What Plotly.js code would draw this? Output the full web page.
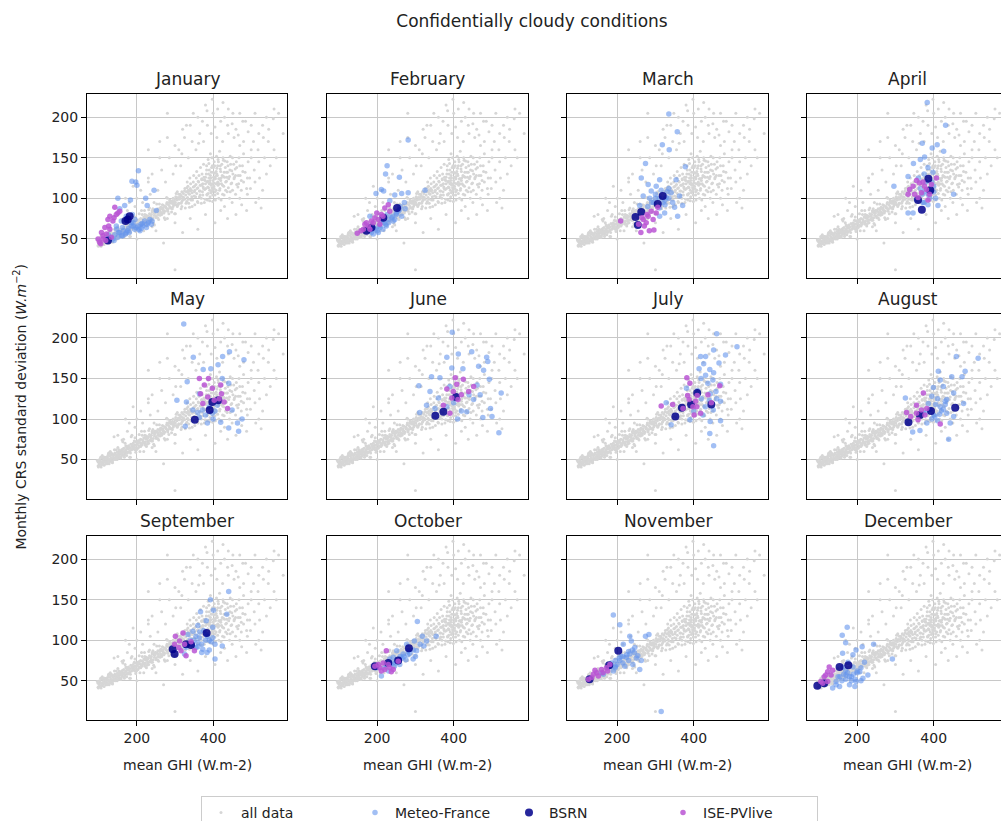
<!DOCTYPE html>
<html><head><meta charset="utf-8">
<script src="https://cdn.plot.ly/plotly-3.0.1.min.js"></script>
<style>html,body{margin:0;padding:0;overflow:hidden;background:#fff}#chart{width:1010px;height:830px}</style>
</head><body><div id="chart"></div><script>
const MONTHS = ["January","February","March","April","May","June","July","August","September","October","November","December"];
const X_TICKS = [200, 400];
const Y_TICKS = [50, 100, 150, 200];

// "all data" cloud (same in every panel)
const GRAY_X = [98,102,105,108,110,112,115,117,120,122,124,126,128,130,132,134,136,138,140,142,144,146,148,150,152,154,156,158,160,162,164,166,168,170,172,174,176,178,180,182,184,186,188,190,192,194,196,198,200,
202,205,208,210,213,215,218,220,222,225,228,230,233,235,238,240,243,245,248,250,253,255,258,260,263,265,268,270,273,275,278,280,283,285,288,290,293,295,298,300,303,305,308,310,313,315,318,320,
322,325,328,330,333,335,338,340,342,345,348,350,352,355,357,360,362,364,366,368,370,372,374,376,378,380,382,384,386,388,390,392,394,396,398,400,402,404,406,408,410,412,414,416,418,420,422,424,426,428,430,432,435,438,440,443,446,449,452,455,458,462,466,470,474,478,
385,392,399,405,395,401,407,397,389,411,377,369,383,403,415,419,425,360,352,345,371,363,387,393,409,417,427,433,437,445,451,461,356,348,341,334,326,318,310,302,295,287,279,270,262,255,246,238,230,222,214,206,198,190,182,175,167,160,152,146,138,130,122,114,106,
150,180,210,240,260,280,300,320,340,360,380,400,420,440,460,480,500,520,540,560,500,520,540,510,490,470,450,430,500,480,470,455,440,425,410,395,375,355,335,315,295,275,255,235,215,195,175,165,250,300,340,380,420,300,560,545,530,520,490,265,285,230,200,310,325,345,365,385,405,430,450,470,485,510,530,220,245,150,130,200,240,280,
100,104,109,113,118,121,127,131,135,139,143,147,151,155,159,163,167,171,175,179,183,187,191,195,199,203,207,211,216,221,226,231,236,241,246,251,256,261,266,271,276,281,286,291,296,301,306,311,316,321,331,336,344,351,358,366,373,379,391,398,405,413,421,429,436,444,459,467,
96,99,103,106,109,113,116,119,123,126,129,133,136,139,143,146,149,153,156,159,163,167,171,175,179,183,187,191,195,199,204,208,212,216,221,225,229,233,238,242,246,250,255,259,263,267,272,276,280,284,289,293,297,301,306,310,314,318,323,327,331,335,340,
98,101,105,108,111,114,118,121,125,128,131,135,138,141,145,148,151,155,158,161,165,169,173,177,181,185,189,193,197,202,206,210,214,218,223,227,231,235,240,244,248,252,257,261,265,269,274,278,282,286,291,295,299,303,308,312,316,320,325,329,333,338,
332,336,339,343,346,349,351,354,357,359,361,364,367,369,371,373,375,377,379,381,383,385,387,389,391,393,395,397,399,401,403,404,406,408,410,412,413,415,417,419,421,423,425,427,429,431,433,435,437,439,441,443,445,447,449,451,454,456,459,462,465,468,471,474,477,480,484,488,492,496,386,392,398,402,394,388,406,396,380,410,375,416,370,420,366,400,390,384,405,412,
302,318,330,348,362,372,384,398,412,426,438,452,466,478,492,506,518,532,546,558,572,584,566,550,535,522,508,498,512,526,488,460,475,438,405,360,320,270,230,190,170,140,260,280,230];
const GRAY_Y = [47,50,44,52,48,46,53,49,51,45,55,50,47,54,52,57,49,55,51,58,53,56,50,59,55,61,53,58,62,56,60,64,57,61,66,59,63,67,60,65,69,62,66,70,64,68,72,65,69,
73,67,71,75,68,74,77,70,76,79,72,78,81,74,80,83,76,82,85,78,84,87,80,86,89,82,88,91,84,90,93,86,92,95,88,94,97,90,96,99,92,98,101,94,100,103,96,102,
106,99,104,108,101,110,105,112,98,107,114,103,110,117,106,113,120,102,109,116,123,108,114,126,111,118,130,105,121,113,135,119,125,108,140,122,115,131,127,110,137,120,145,124,112,133,118,128,150,115,126,138,121,132,113,127,142,119,130,124,136,117,128,140,122,133,
98,102,96,104,132,138,118,113,125,128,95,100,140,145,100,140,105,95,92,90,130,128,148,155,152,158,147,110,145,108,150,145,125,120,118,115,112,108,105,102,100,97,95,85,83,80,79,76,73,72,70,66,68,63,61,64,59,57,57,52,52,49,48,49,47,
80,95,110,130,150,175,165,185,190,200,215,205,195,210,185,170,190,180,200,210,150,145,130,120,105,100,95,90,160,155,165,175,180,170,175,180,170,160,150,140,130,120,110,105,95,90,85,75,60,70,75,80,85,12,160,170,110,100,125,135,150,120,100,160,175,170,180,190,188,200,192,205,195,205,190,85,95,65,60,50,65,75,
43,48,45,51,47,53,45,50,47,56,50,54,52,57,54,63,55,62,58,64,58,68,66,62,72,64,74,69,72,68,75,70,78,73,84,76,83,79,87,82,88,84,90,88,93,95,90,99,94,100,96,106,102,108,112,104,118,122,110,118,125,116,125,132,126,135,128,118,
49,41,48,41,55,47,53,45,52,58,49,58,46,56,51,62,55,62,52,60,72,53,67,59,64,53,80,66,77,62,73,60,85,71,80,66,77,88,73,87,67,85,76,93,81,92,76,89,100,81,95,87,92,81,108,94,105,90,101,88,113,99,109,
42,46,53,44,53,43,51,46,57,50,56,47,55,62,51,59,55,58,52,74,59,70,55,66,53,78,64,73,59,70,81,66,80,60,78,69,86,74,85,69,82,93,74,88,80,85,74,101,87,98,83,94,81,106,92,101,87,98,109,94,108,89,
120,94,125,110,98,128,115,102,133,96,121,109,138,94,117,104,142,123,99,112,135,120,106,143,97,128,116,150,104,126,112,140,98,133,118,106,148,124,110,136,98,142,116,127,104,146,120,132,108,140,124,100,152,118,134,110,142,126,105,138,114,150,128,110,140,120,132,112,145,125,114,122,110,119,107,130,124,138,126,130,112,118,124,122,116,132,118,104,108,140,
140,155,190,205,168,195,208,222,210,218,190,205,178,195,182,170,160,175,185,198,205,180,150,140,150,125,135,112,95,88,85,80,92,75,70,62,58,45,125,115,100,78,170,205,160];

// Meteo-France, per month
const MF_X = [
[204,197,187,200,245,223,183,150,251,227,198,211,220,194,155,163,137,176,146,159,172,155,168,185,190,205,215,230,180,170,160,150,140,208,195,225,240,188,130,142,152,165,178,190,202,214,226,234,118,125,147,162,185,212,238,172],
[281,226,222,258,325,211,217,281,264,246,197,271,233,242,264,224,203,190,273,181,230,250,215,238,255,208,200,185,222,246,260,195,205,218,230,240,250,258,212,226,190,180],
[335,357,318,336,274,378,263,311,354,281,341,328,363,350,324,311,289,302,268,259,358,371,300,290,320,335,345,280,310,325,300,315,330,325,295,310,285,335],
[383,431,370,409,426,396,365,376,347,296,452,333,385,398,411,333,346,372,355,394,380,390,370,400,360,375,405,385,365,375,395,385,400,375],
[323,443,425,481,348,394,413,374,332,441,424,305,330,476,464,467,441,420,327,450,364,372,347,398,411,364,380,390,400,360,385,405],
[396,486,447,489,412,382,424,465,478,493,524,518,309,342,395,364,500,476,496,452,338,360,329,311,434,461,469,351,382,400,420,440,390,410],
[460,513,483,452,431,418,466,426,414,442,452,431,470,458,443,470,451,470,443,424,442,452,341,328,390,437,450,419,381,441,420,430,410,400,460],
[516,459,482,474,447,412,326,478,439,417,399,425,452,395,434,417,434,452,443,403,382,364,345,373,386,410,420,430,400,390,405,415,425,410,395,380,430],
[441,393,436,401,367,382,360,399,424,405,384,364,347,334,355,325,373,382,399,329,345,370,390,350,360,340,355,365,375,385,395,405,380,360,345,370,390],
[305,354,318,322,297,277,251,268,242,294,224,211,259,281,233,303,312,329,198,250,265,280,240,260,220,235,248,258,270,285,295,300,275,245,230],
[190,207,233,283,274,315,246,263,259,241,224,207,220,190,233,181,164,254,237,216,200,210,230,195,185,245,185,195,205,215,225,230,240,250,195,175,160,215],
[174,161,170,243,292,213,197,189,162,228,215,197,180,194,154,145,171,207,189,162,176,136,219,185,200,170,150,210,160,170,180,190,200,210,165,175,185,155,145,195]];
const MF_Y = [
[134,120,121,116,110,100,98,100,85,91,64,68,72,62,58,54,50,60,66,72,78,87,91,66,70,62,66,70,58,56,54,52,48,60,74,64,72,80,52,55,58,60,63,66,66,69,68,74,50,55,62,64,70,63,68,58],
[172,140,130,126,110,111,109,107,106,104,106,95,97,72,78,66,58,56,87,78,70,80,62,76,84,64,60,58,68,74,90,62,66,70,74,78,82,86,72,80,64,60],
[204,182,166,160,143,139,125,123,123,117,107,101,103,89,82,78,109,115,103,91,78,91,100,95,95,100,95,90,88,92,105,110,108,98,95,100,100,112],
[218,190,168,166,158,162,148,151,143,115,105,127,138,132,91,82,82,95,99,109,120,100,105,115,125,130,100,92,112,108,120,105,108,95],
[217,183,177,173,176,162,167,161,146,144,150,123,121,100,95,85,89,96,91,111,131,111,111,107,117,102,105,115,100,108,95,110],
[207,176,183,171,180,176,162,165,160,149,132,83,141,152,163,151,103,102,113,124,134,126,117,108,109,142,130,113,115,120,110,130,140,100],
[205,189,179,185,177,177,169,168,162,161,157,154,143,134,131,122,111,98,97,105,82,67,93,120,99,144,148,150,138,123,125,115,135,110,125],
[175,177,159,152,152,159,126,119,75,148,139,140,132,128,124,115,107,103,95,103,95,86,84,107,119,125,110,118,105,112,118,106,112,98,100,108,122],
[160,150,132,137,135,124,118,116,93,77,85,103,111,107,91,83,89,107,103,91,95,95,100,100,97,100,105,110,112,105,98,95,100,92,95,85,88],
[123,105,105,93,99,95,87,83,79,77,70,56,70,87,77,87,95,99,66,75,78,82,72,80,66,70,72,76,80,84,88,80,76,68,62],
[131,119,105,107,105,12,91,75,64,70,79,75,68,62,83,70,58,81,99,95,70,80,75,66,68,85,72,75,78,80,82,86,88,78,68,66,60,72],
[116,106,97,95,77,92,88,82,84,57,53,49,45,43,43,49,57,61,67,67,73,41,73,55,60,63,55,50,50,52,55,58,62,66,58,60,50,55,45,52]];

// BSRN, per month
const BSRN_X = [[181,176,170,124],[252,216,185,172],[319,306,263,248,254],[386,391,369,359],[352,391,414,398],[352,373,406],[352,369,409,446,393],[334,364,393,456],[294,299,383,342,329],[283,194,255,229],[203,179,128],[96,154,177,114]];
const BSRN_Y = [[78,74,72,48],[88,76,64,60],[103,93,83,77,67],[124,110,86,98],[99,111,123,121],[104,109,127],[103,114,132,118,118],[96,105,110,114],[89,83,109,94,95],[90,68,75,72],[87,69,52],[44,67,69,47]];

// ISE-PVlive, per month
const ISE_X = [
[102,111,98,120,107,129,116,137,129,146,155,142,124,111,133,105,118,126,140,150],
[148,164,177,190,203,199,211,220,229,233,207,181,168,194,185,172,158,215],
[209,268,281,294,262,284,296,276,302,306,289,271,256,278,265],
[337,350,363,376,346,359,381,394,407,333,368,389,355,372,385],
[364,388,377,398,420,367,386,373,416,438,429,403,422],
[404,425,382,399,420,411,452,439,395,390,373,408],
[382,390,468,437,446,315,345,372,401,418,388,405,398,409,384,408],
[373,329,417,355,368,340,359,377,355,382],
[301,321,312,325,310,329,342,351,316,299],
[194,207,220,233,229,216,242,224,255,203,211,237],
[125,138,147,159,172,181,134,151,163,175,142],
[105,114,123,127,118,132,110,123,136]];
const ISE_Y = [
[46,50,50,56,58,62,64,72,78,80,84,89,74,54,52,44,48,66,76,82],
[57,62,66,70,74,82,80,88,92,84,68,62,68,76,72,70,60,78],
[72,74,78,74,58,60,61,70,82,89,84,66,68,80,76],
[111,105,119,115,115,101,111,117,125,105,107,105,122,120,98],
[150,150,142,138,142,131,127,119,125,113,121,123,131],
[151,149,137,134,130,124,140,134,126,107,117,143],
[151,144,141,130,120,116,118,113,105,107,124,122,115,129,129,115],
[132,108,94,117,111,103,99,105,107,113],
[105,109,99,95,91,81,98,87,87,95],
[68,66,64,66,70,72,64,87,74,70,62,61],
[52,58,60,64,66,70,54,56,60,62,63],
[49,55,61,67,57,57,47,49,63]];

const W = 1010, H = 830;
const COLS = [[87,287],[327,528],[567,768],[807,1008]];
const ROWS = [[94,279],[315.5,500.5],[537.5,722.5]];
const FONT = "DejaVu Sans, sans-serif";

const traces = [];
const layout = {
  width: W, height: H, margin: {l:0, r:0, t:0, b:0},
  paper_bgcolor: '#fff', plot_bgcolor: '#fff',
  font: {family: FONT, size: 14, color: '#222'},
  title: {text: 'Confidentially cloudy conditions', x: 532/W, xanchor: 'center', xref: 'container', yref: 'container', y: 1 - 21/H, yanchor: 'middle', font: {size: 17, color: '#222'}},
  showlegend: true,
  legend: {orientation: 'h', x: 201/W, xanchor: 'left', y: 1 - 799/H, yanchor: 'top', xref: 'paper', yref: 'paper',
    bordercolor: '#cccccc', borderwidth: 1, bgcolor: '#fff', font: {size: 14, color: '#222'},
    entrywidth: 109, entrywidthmode: 'pixels', itemsizing: 'trace'},
  annotations: []
};

MONTHS.forEach((m, i) => {
  const r = Math.floor(i / 4), c = i % 4;
  const sx = i ? String(i + 1) : '';
  const xa = 'x' + sx, ya = 'y' + sx;
  const first = i === 0;
  traces.push({type:'scatter', mode:'markers', x: GRAY_X, y: GRAY_Y, xaxis: xa, yaxis: ya, name: 'all data', legendgroup: 'g', showlegend: first,
    marker: {size: 3, color: '#d6d6d6'}, hoverinfo: 'skip'});
  traces.push({type:'scatter', mode:'markers', x: MF_X[i], y: MF_Y[i], xaxis: xa, yaxis: ya, name: 'Meteo-France', legendgroup: 'mf', showlegend: first,
    marker: {size: 5.5, color: 'rgba(100,149,237,0.6)'}});
  traces.push({type:'scatter', mode:'markers', x: BSRN_X[i], y: BSRN_Y[i], xaxis: xa, yaxis: ya, name: 'BSRN', legendgroup: 'b', showlegend: first,
    marker: {size: 8, color: 'rgba(0,0,139,0.85)'}});
  traces.push({type:'scatter', mode:'markers', x: ISE_X[i], y: ISE_Y[i], xaxis: xa, yaxis: ya, name: 'ISE-PVlive', legendgroup: 'i', showlegend: first,
    marker: {size: 5.5, color: 'rgba(186,85,211,0.85)'}});

  const common = {ticks: 'outside', ticklen: 5, tickwidth: 1, tickcolor: '#000', showgrid: true, gridcolor: '#c8c8c8', gridwidth: 1,
    showline: true, mirror: true, linecolor: '#000', linewidth: 1, zeroline: false, tickfont: {size: 14, color: '#222'}, fixedrange: true};
  layout['xaxis' + sx] = Object.assign({}, common, {domain: [COLS[c][0]/W, COLS[c][1]/W], range: [69, 594], anchor: ya,
    tickmode: 'array', tickvals: X_TICKS, showticklabels: r === 2});
  layout['yaxis' + sx] = Object.assign({}, common, {domain: [1 - ROWS[r][1]/H, 1 - ROWS[r][0]/H], range: [1.8, 229], anchor: xa,
    tickmode: 'array', tickvals: Y_TICKS, showticklabels: c === 0});

  layout.annotations.push({text: m, xref: 'paper', yref: 'paper', x: (COLS[c][0] + COLS[c][1]) / 2 / W, y: 1 - ROWS[r][0]/H,
    xanchor: 'center', yanchor: 'bottom', yshift: 3, showarrow: false, font: {size: 17, color: '#222'}});
  if (r === 2) {
    layout.annotations.push({text: 'mean GHI (W.m-2)', xref: 'paper', yref: 'paper', x: (COLS[c][0] + COLS[c][1]) / 2 / W, y: 1 - 768/H,
      xanchor: 'center', yanchor: 'middle', showarrow: false, font: {size: 14, color: '#222'}});
  }
});
layout.annotations.push({text: 'Monthly CRS standard deviation (<i>W.m</i><sup>−2</sup>)', xref: 'paper', yref: 'paper', x: 20/W, y: 1 - 408/H,
  xanchor: 'center', yanchor: 'middle', textangle: -90, showarrow: false, font: {size: 14, color: '#222'}});

Plotly.newPlot('chart', traces, layout, {displayModeBar: false, staticPlot: true});
</script></body></html>
